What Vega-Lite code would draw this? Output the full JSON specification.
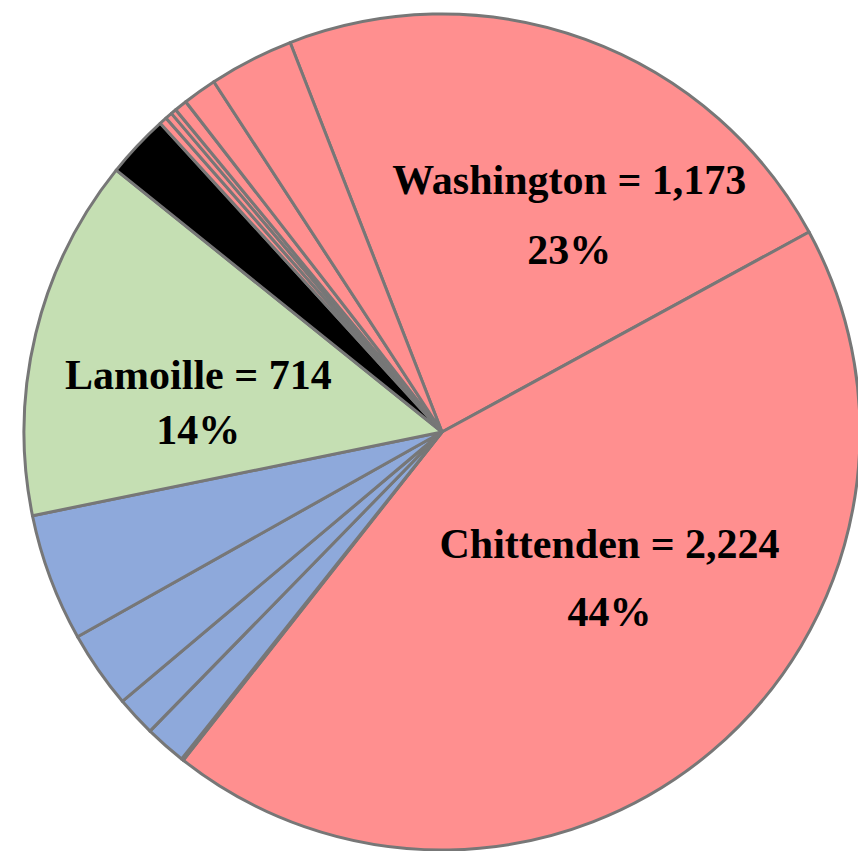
{
  "$schema": "https://vega.github.io/schema/vega-lite/v6.json",
  "width": 836,
  "height": 836,
  "padding": {"left": 22, "top": 12, "right": 0, "bottom": 3},
  "background": "white",
  "view": {"stroke": null},
  "data": {
    "values": [
      {"idx": 1, "county": "Washington", "region": "A", "count": 1173, "label": ["Washington = 1,173", "23%"]},
      {"idx": 2, "county": "Chittenden", "region": "A", "count": 2224, "label": ["Chittenden = 2,224", "44%"]},
      {"idx": 3, "county": "Essex", "region": "B", "count": 4, "label": ""},
      {"idx": 4, "county": "Windsor", "region": "B", "count": 82, "label": ""},
      {"idx": 5, "county": "Windham", "region": "B", "count": 79, "label": ""},
      {"idx": 6, "county": "Rutland", "region": "B", "count": 153, "label": ""},
      {"idx": 7, "county": "Franklin", "region": "B", "count": 252, "label": ""},
      {"idx": 8, "county": "Lamoille", "region": "C", "count": 714, "label": ["Lamoille = 714", "14%"]},
      {"idx": 9, "county": "Unknown", "region": "D", "count": 125, "label": ""},
      {"idx": 10, "county": "Grand Isle", "region": "A", "count": 15, "label": ""},
      {"idx": 11, "county": "Bennington", "region": "A", "count": 14, "label": ""},
      {"idx": 12, "county": "Orleans", "region": "A", "count": 11, "label": ""},
      {"idx": 13, "county": "Addison", "region": "A", "count": 25, "label": ""},
      {"idx": 14, "county": "Caledonia", "region": "A", "count": 67, "label": ""},
      {"idx": 15, "county": "Orange", "region": "A", "count": 167, "label": ""}
    ]
  },
  "encoding": {
    "theta": {"field": "count", "type": "quantitative", "stack": true, "scale": {"range": [-0.3718, 5.9114]}},
    "order": {"field": "idx", "type": "quantitative"}
  },
  "layer": [
    {
      "mark": {"type": "arc", "stroke": "#777777", "strokeWidth": 3, "strokeJoin": "round"},
      "encoding": {
        "color": {"field": "region", "type": "nominal", "legend": null,
          "scale": {"domain": ["A", "B", "C", "D"], "range": ["#FF8F8F", "#8EA9DB", "#C5DFB3", "#000000"]}}
      }
    },
    {
      "mark": {"type": "text", "radius": 281, "thetaOffset": 0.12, "font": "Liberation Serif", "fontWeight": "bold", "fontSize": 42, "lineHeight": 70, "align": "center", "baseline": "middle", "color": "black"},
      "encoding": {
        "text": {"condition": {"test": "datum.county === 'Washington'", "field": "label"}, "value": ""}
      }
    },
    {
      "mark": {"type": "text", "radius": 202, "thetaOffset": -0.277, "font": "Liberation Serif", "fontWeight": "bold", "fontSize": 42, "lineHeight": 68, "align": "center", "baseline": "middle", "color": "black"},
      "encoding": {
        "text": {"condition": {"test": "datum.county === 'Chittenden'", "field": "label"}, "value": ""}
      }
    },
    {
      "mark": {"type": "text", "radius": 250, "thetaOffset": -0.012, "font": "Liberation Serif", "fontWeight": "bold", "fontSize": 42, "lineHeight": 55, "align": "center", "baseline": "middle", "color": "black"},
      "encoding": {
        "text": {"condition": {"test": "datum.county === 'Lamoille'", "field": "label"}, "value": ""}
      }
    }
  ]
}
